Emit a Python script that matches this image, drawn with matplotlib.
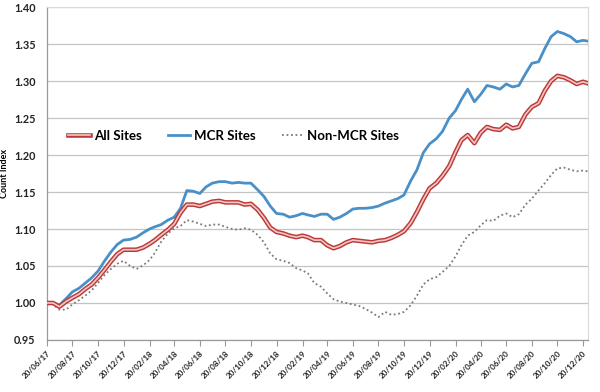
import matplotlib
matplotlib.use("Agg")
import matplotlib.pyplot as plt
import matplotlib.patheffects as pe
import pandas as pd
from matplotlib.lines import Line2D

plt.rcParams['font.family'] = ['Lato', 'DejaVu Sans']

dates = [
    "2017-06-20", "2017-07-05", "2017-07-20", "2017-08-05", "2017-08-20", "2017-09-05", "2017-09-20",
    "2017-10-05", "2017-10-20", "2017-11-05", "2017-11-20", "2017-12-05", "2017-12-20",
    "2018-01-05", "2018-01-20", "2018-02-05", "2018-02-20", "2018-03-05", "2018-03-20",
    "2018-04-05", "2018-04-20", "2018-05-05", "2018-05-20", "2018-06-05", "2018-06-20",
    "2018-07-05", "2018-07-20", "2018-08-05", "2018-08-20", "2018-09-05", "2018-09-20",
    "2018-10-05", "2018-10-20", "2018-11-05", "2018-11-20", "2018-12-05", "2018-12-20",
    "2019-01-05", "2019-01-20", "2019-02-05", "2019-02-20", "2019-03-05", "2019-03-20",
    "2019-04-05", "2019-04-20", "2019-05-05", "2019-05-20", "2019-06-05", "2019-06-20",
    "2019-07-05", "2019-07-20", "2019-08-05", "2019-08-20", "2019-09-05", "2019-09-20",
    "2019-10-05", "2019-10-20", "2019-11-05", "2019-11-20", "2019-12-05", "2019-12-20",
    "2020-01-05", "2020-01-20", "2020-02-05", "2020-02-20", "2020-03-05", "2020-03-20",
    "2020-04-05", "2020-04-20", "2020-05-05", "2020-05-20", "2020-06-05", "2020-06-20",
    "2020-07-05", "2020-07-20", "2020-08-05", "2020-08-20", "2020-09-05", "2020-09-20",
    "2020-10-05", "2020-10-20", "2020-11-05", "2020-11-20", "2020-12-05", "2020-12-20",
    "2020-12-31",
]

mcr_sites = [
    1.000, 1.000, 0.997, 1.006, 1.015, 1.020, 1.027,
    1.034, 1.043, 1.057, 1.069, 1.079, 1.085,
    1.086, 1.089, 1.095, 1.100, 1.103, 1.106,
    1.112, 1.116, 1.128, 1.152, 1.151, 1.148,
    1.157, 1.162, 1.164, 1.164, 1.162, 1.163,
    1.162, 1.162, 1.153, 1.144, 1.131, 1.121,
    1.120, 1.116, 1.118, 1.121, 1.119, 1.117,
    1.120, 1.120, 1.113, 1.116, 1.121, 1.127,
    1.128, 1.128, 1.129, 1.131, 1.135, 1.138,
    1.141, 1.146, 1.165, 1.180, 1.203, 1.215,
    1.222, 1.232, 1.250, 1.260, 1.275, 1.289,
    1.272, 1.282, 1.294, 1.292, 1.289, 1.296,
    1.292, 1.294, 1.310, 1.324, 1.326, 1.344,
    1.360, 1.367, 1.364, 1.360, 1.353, 1.355,
    1.354,
]

all_sites = [
    1.000, 1.000, 0.995, 1.002, 1.007, 1.012, 1.019,
    1.025, 1.034, 1.045, 1.056, 1.066, 1.072,
    1.072, 1.072, 1.075, 1.080, 1.085, 1.092,
    1.099, 1.107, 1.122, 1.133, 1.133, 1.131,
    1.134, 1.137, 1.138, 1.136, 1.136, 1.136,
    1.133, 1.134, 1.126, 1.115, 1.102, 1.096,
    1.094, 1.091, 1.089, 1.091, 1.089, 1.085,
    1.085, 1.078, 1.074, 1.077, 1.082, 1.085,
    1.084, 1.083, 1.082, 1.084, 1.085, 1.088,
    1.092, 1.097, 1.108, 1.123, 1.140, 1.155,
    1.162, 1.172, 1.185, 1.204, 1.220, 1.227,
    1.216, 1.230, 1.238, 1.235, 1.234, 1.241,
    1.236, 1.238, 1.255, 1.265, 1.270, 1.287,
    1.300, 1.307, 1.305, 1.301, 1.296, 1.299,
    1.297,
]

non_mcr_sites = [
    1.000, 0.998, 0.991, 0.991, 0.998, 1.004, 1.010,
    1.017, 1.027, 1.038, 1.046, 1.053, 1.057,
    1.050, 1.046, 1.051, 1.058, 1.068, 1.083,
    1.094, 1.101, 1.104, 1.112, 1.110, 1.107,
    1.104, 1.106, 1.106, 1.103, 1.100, 1.099,
    1.101, 1.099, 1.092, 1.082, 1.067, 1.059,
    1.057, 1.054, 1.047, 1.044, 1.040, 1.027,
    1.022, 1.013, 1.005, 1.002, 1.000, 0.998,
    0.996, 0.992, 0.987, 0.981, 0.988, 0.984,
    0.985, 0.988, 0.997, 1.010, 1.025, 1.032,
    1.035, 1.042, 1.050, 1.063, 1.078, 1.091,
    1.096, 1.105, 1.112, 1.111, 1.118, 1.121,
    1.116, 1.120, 1.133, 1.141, 1.152, 1.162,
    1.173, 1.182, 1.183, 1.180, 1.178, 1.179,
    1.178,
]

tick_dates = [
    "2017-06-20", "2017-08-20", "2017-10-20", "2017-12-20", "2018-02-20", "2018-04-20",
    "2018-06-20", "2018-08-20", "2018-10-20", "2018-12-20", "2019-02-20", "2019-04-20",
    "2019-06-20", "2019-08-20", "2019-10-20", "2019-12-20", "2020-02-20", "2020-04-20",
    "2020-06-20", "2020-08-20", "2020-10-20", "2020-12-20",
]
y_ticks = [0.95, 1.00, 1.05, 1.10, 1.15, 1.20, 1.25, 1.30, 1.35, 1.40]

x = pd.to_datetime(dates)
xt = pd.to_datetime(tick_dates)

fig = plt.figure(figsize=(6.0, 3.92), dpi=100)
ax = fig.add_axes([0.078, 0.1327, 0.902, 0.8493])

red_edge = '#bb3a37'
red_fill = '#f3c6c6'
blue = '#4a90c8'
grey = '#7a7a7a'

ax.plot(x, mcr_sites, color=blue, lw=2.0, zorder=3)
ax.plot(x, non_mcr_sites, color=grey, lw=1.3, ls=(0, (1, 1.5)), zorder=3)
ax.plot(x, all_sites, color=red_fill, lw=1.2, zorder=4,
        path_effects=[pe.Stroke(linewidth=3.3, foreground=red_edge), pe.Normal()])

ax.set_ylim(0.95, 1.40)
ax.set_yticks(y_ticks)
ax.set_yticklabels([f"{v:.2f}" for v in y_ticks], fontsize=7.8, fontweight='bold')
ax.set_xlim(pd.Timestamp("2017-06-20"), pd.Timestamp("2021-01-01"))
ax.set_xticks(xt)
ax.set_xticklabels([d.strftime("%d/%m/%y") for d in xt], rotation=45,
                   ha='right', rotation_mode='anchor', fontsize=5.8, fontweight='bold')
ax.tick_params(axis='y', length=0, pad=8, colors='#222222')
ax.tick_params(axis='x', length=4, width=0.8, color='#999999', pad=3, labelcolor='#222222')

ax.grid(axis='y', color='#c4c4c4', lw=0.9)
ax.set_axisbelow(True)
for s in ['left', 'bottom']:
    ax.spines[s].set_color('#999999')
    ax.spines[s].set_linewidth(0.9)
for s in ['top', 'right']:
    ax.spines[s].set_color('#d9d9d9')
    ax.spines[s].set_linewidth(0.8)

ax.set_ylabel("Count Index", fontsize=6.5, fontweight='bold')
ax.yaxis.set_label_coords(-0.07, 0.5)

h_all = Line2D([], [], color=red_fill, lw=1.2,
               path_effects=[pe.Stroke(linewidth=3.3, foreground=red_edge), pe.Normal()])
h_mcr = Line2D([], [], color=blue, lw=2.0)
h_non = Line2D([], [], color=grey, lw=1.3, ls=(0, (1, 1.5)))
leg = ax.legend([h_all, h_mcr, h_non], ["All Sites", "MCR Sites", "Non-MCR Sites"],
                loc='center', bbox_to_anchor=(0.345, 0.613), ncol=3, frameon=False,
                prop={'size': 9.5, 'weight': 'bold'}, handlelength=1.7,
                handletextpad=0.25, columnspacing=2.0)

fig.savefig("out.png", dpi=100)
